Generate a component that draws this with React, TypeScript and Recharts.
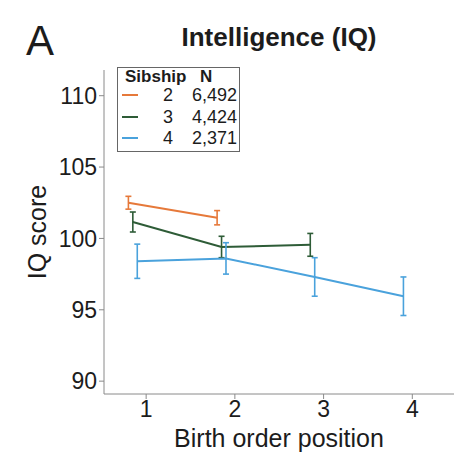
import { ErrorBar, Line, LineChart, XAxis, YAxis } from "recharts";

const sibships = ["2", "3", "4"];
const sampleSizes = ["6,492", "4,424", "2,371"];
const COLORS = ["#e6793a", "#2e5c37", "#4aa2dc"];

// birth order position (dodged a bit left of the integer), mean IQ, half CI
const sib2X = [0.8, 1.8];
const sib2Iq = [102.5, 101.45];
const sib2Err = [0.45, 0.5];

const sib3X = [0.85, 1.85, 2.85];
const sib3Iq = [101.15, 99.4, 99.55];
const sib3Err = [0.7, 0.75, 0.8];

const sib4X = [0.9, 1.9, 2.9, 3.9];
const sib4Iq = [98.4, 98.6, 97.3, 95.95];
const sib4Err = [1.2, 1.1, 1.35, 1.35];

const xTicks = [1, 2, 3, 4];
const yTicks = [90, 95, 100, 105, 110];

const toRows = (xs: number[], ys: number[], errs: number[]) =>
  xs.map((x, i) => ({ pos: x, iq: ys[i], err: errs[i] }));

const series = [
  toRows(sib2X, sib2Iq, sib2Err),
  toRows(sib3X, sib3Iq, sib3Err),
  toRows(sib4X, sib4Iq, sib4Err),
];

const FONT = '"Liberation Sans", Arial, sans-serif';
const AXIS = "#8a8a8a";
const INK = "#1c1c1c";

export default function App() {
  return (
    <div style={{ position: "absolute", left: 0, top: 0, width: 474, height: 462, fontFamily: FONT, background: "#fff" }}>
      <div style={{ position: "absolute", left: 26, top: 16.5, fontSize: 42, color: INK }}>A</div>
      <div style={{ position: "absolute", left: 0, width: 558, top: 21.5, textAlign: "center", fontSize: 26, fontWeight: "bold", color: INK }}>
        Intelligence (IQ)
      </div>
      <LineChart width={474} height={462} margin={{ top: 70, right: 20, bottom: 8, left: 40 }}>
        <XAxis
          type="number"
          dataKey="pos"
          domain={[0.525, 4.47]}
          ticks={xTicks}
          allowDataOverflow
          height={60}
          stroke={AXIS}
          tickSize={5}
          tick={{ fill: INK, fontSize: 23, fontFamily: FONT }}
          label={{ value: "Birth order position", position: "insideBottom", offset: 7, fill: INK, fontSize: 25, fontFamily: FONT }}
        />
        <YAxis
          type="number"
          domain={[89.1, 111.8]}
          ticks={yTicks}
          allowDataOverflow
          width={64}
          stroke={AXIS}
          tickSize={5}
          tick={{ fill: INK, fontSize: 23, fontFamily: FONT }}
          label={{ value: "IQ score", angle: -90, position: "insideLeft", offset: -3, fill: INK, fontSize: 25, fontFamily: FONT, style: { textAnchor: "middle" } }}
        />
        {series.map((rows, i) => (
          <Line
            key={sibships[i]}
            data={rows}
            dataKey="iq"
            stroke={COLORS[i]}
            strokeWidth={2}
            dot={false}
            isAnimationActive={false}
          >
            <ErrorBar dataKey="err" direction="y" width={3} stroke={COLORS[i]} strokeWidth={1.6} />
          </Line>
        ))}
      </LineChart>
      <div
        style={{
          position: "absolute",
          left: 117,
          top: 67,
          width: 123,
          height: 85,
          border: "1px solid #666",
          fontSize: 18,
          lineHeight: "20px",
          color: INK,
          boxSizing: "border-box",
        }}
      >
        <div style={{ position: "absolute", left: 7, top: -1, fontWeight: "bold", fontSize: 17 }}>Sibship</div>
        <div style={{ position: "absolute", left: 82, top: -1, fontWeight: "bold", fontSize: 17 }}>N</div>
        {sibships.map((s, i) => (
          <div key={s} style={{ position: "absolute", left: 0, top: 17 + i * 21.5, width: 121, height: 20 }}>
            <div style={{ position: "absolute", left: 4, top: 9, width: 16, height: 2, background: COLORS[i] }} />
            <div style={{ position: "absolute", left: 45, top: 0 }}>{s}</div>
            <div style={{ position: "absolute", right: 2, top: 0 }}>{sampleSizes[i]}</div>
          </div>
        ))}
      </div>
    </div>
  );
}
